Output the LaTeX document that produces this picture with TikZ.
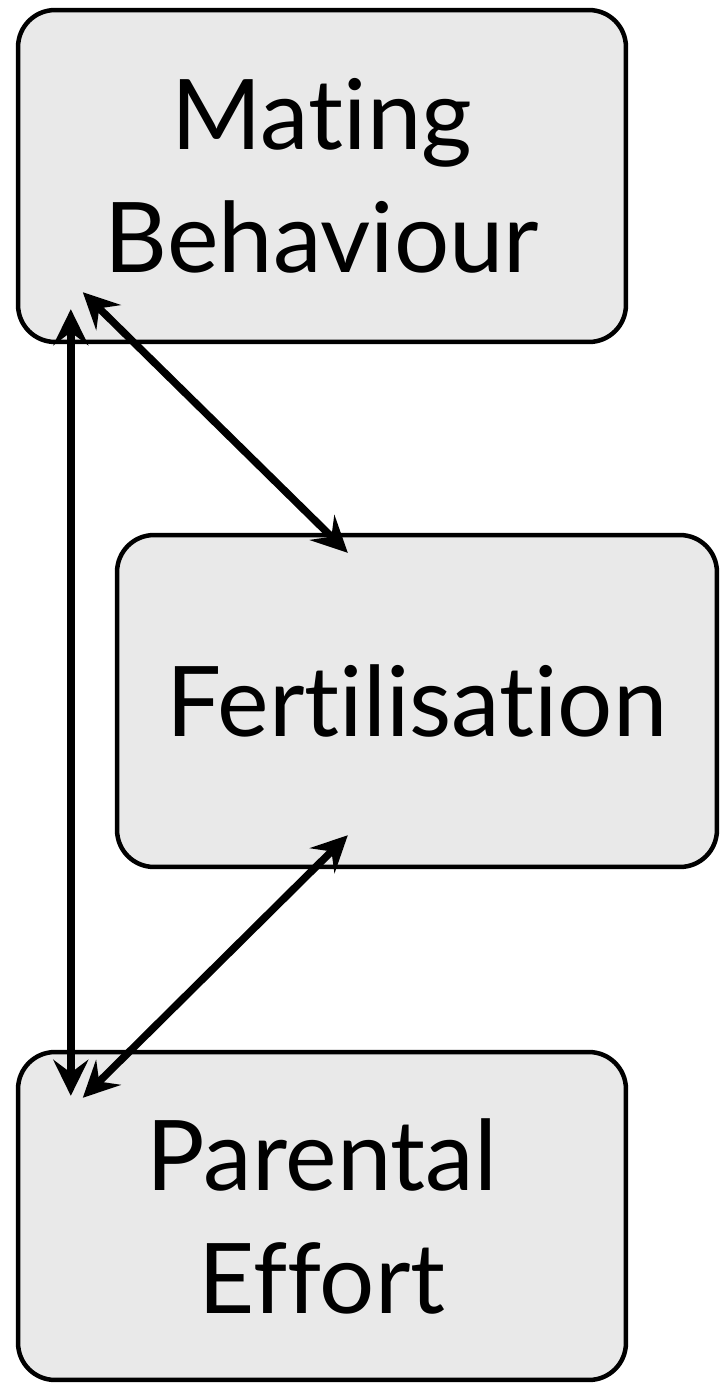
\documentclass[tikz,border=0pt]{standalone}
\usepackage{fontspec}
\setmainfont[Ligatures=NoCommon]{Lato}
\usetikzlibrary{arrows.meta, calc}
\definecolor{boxgray}{HTML}{E9E9E9}

\begin{document}
\begin{tikzpicture}[
    x=0.02cm, y=-0.02cm,
    stage/.style={draw, line width=0.09cm, rounded corners=0.74cm, fill=boxgray, align=center, font=\fontsize{55.5}{70}\selectfont, inner sep=0pt},
    link/.style={{Stealth[length=0.72cm, width=0.7cm, inset=0.26cm]}-{Stealth[length=0.72cm, width=0.7cm, inset=0.26cm]}, line width=0.15cm}
]
\useasboundingbox (0,0) rectangle (720,1384);

\node[stage, minimum width=12.16cm, minimum height=6.64cm] (mating) at (322, 176) {Mating\\Behaviour};
\node[stage, minimum width=12.0cm, minimum height=6.64cm] (fert) at (417, 701) {Fertilisation};
\node[stage, minimum width=12.16cm, minimum height=6.56cm] (parental) at (322, 1216) {Parental\\Effort};

\draw[link] ($(mating.south west)+(55,-35)$) -- ($(parental.north west)+(55,46)$);
\draw[link] ($(mating.south west)+(67,-52)$) -- ($(fert.north west)+(233,20)$);
\draw[link] ($(fert.south west)+(233,-34)$) -- ($(parental.north west)+(67,48)$);
\end{tikzpicture}
\end{document}
